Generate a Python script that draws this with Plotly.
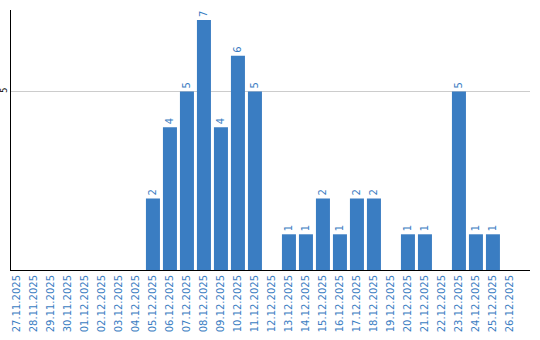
import plotly.graph_objects as go

dates = ["27.11.2025", "28.11.2025", "29.11.2025", "30.11.2025", "01.12.2025", "02.12.2025",
         "03.12.2025", "04.12.2025", "05.12.2025", "06.12.2025", "07.12.2025", "08.12.2025",
         "09.12.2025", "10.12.2025", "11.12.2025", "12.12.2025", "13.12.2025", "14.12.2025",
         "15.12.2025", "16.12.2025", "17.12.2025", "18.12.2025", "19.12.2025", "20.12.2025",
         "21.12.2025", "22.12.2025", "23.12.2025", "24.12.2025", "25.12.2025", "26.12.2025"]
counts = [0, 0, 0, 0, 0, 0, 0, 0, 2, 4, 5, 7, 4, 6, 5, 0, 1, 1, 2, 1, 2, 2, 0, 1, 1, 0, 5, 1, 1, 0]

blue = "#3a7dc2"
labels = [str(v) if v else "" for v in counts]

fig = go.Figure(go.Bar(
    x=dates, y=counts, marker_color=blue, marker_line_width=0,
    text=labels, textposition="outside", textangle=-90,
    textfont=dict(color=blue, size=10, family="DejaVu Sans"),
    cliponaxis=False,
))
fig.update_layout(
    width=540, height=340,
    margin=dict(l=11, r=10, t=10, b=70),
    plot_bgcolor="white", paper_bgcolor="white",
    bargap=0.176, showlegend=False,
    xaxis=dict(type="category", tickangle=-90, showline=True, linecolor="black", linewidth=1,
               ticks="", showgrid=False, automargin=False, range=[-0.35, 30.18],
               tickfont=dict(color=blue, size=10, family="DejaVu Sans")),
    yaxis=dict(range=[0, 7.28], tickvals=[5], ticktext=["5"], showline=True, linecolor="black",
               linewidth=1, showgrid=True, gridcolor="#cccccc", zeroline=False, ticks="",
               automargin=False, ticklabelstandoff=0,
               tickangle=-90, tickfont=dict(color="black", size=8, family="DejaVu Sans")),
)
fig.write_html("out.html")
